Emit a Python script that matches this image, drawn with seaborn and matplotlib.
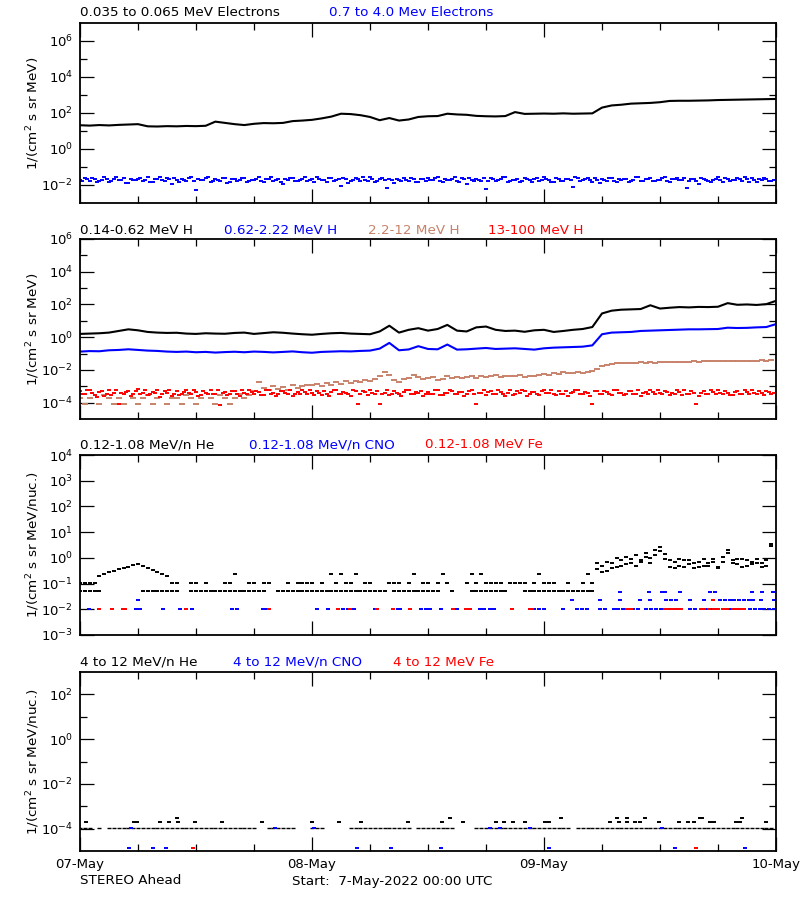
import numpy as np
import pandas as pd
import matplotlib
matplotlib.use('Agg')
import matplotlib.pyplot as plt
import matplotlib.dates as mdates
from matplotlib.ticker import NullFormatter
import seaborn as sns

nan = np.nan
START = pd.Timestamp("2022-05-07 00:00")

# ---- panel 1: electrons (log10 flux) ----
# 0.035-0.065 MeV, hourly samples
e_low = [1.32, 1.30, 1.33, 1.31, 1.34, 1.36, 1.38, 1.26, 1.25, 1.27,
         1.26, 1.28, 1.27, 1.29, 1.52, 1.45, 1.38, 1.33, 1.40, 1.44,
         1.43, 1.45, 1.55, 1.58, 1.62, 1.70, 1.80, 1.96, 1.94, 1.88,
         1.78, 1.60, 1.72, 1.58, 1.64, 1.78, 1.82, 1.83, 1.96, 1.92,
         1.90, 1.84, 1.82, 1.81, 1.83, 2.05, 1.95, 1.96, 1.97, 1.96,
         1.98, 1.96, 1.97, 1.98, 2.30, 2.42, 2.46, 2.52, 2.54, 2.56,
         2.60, 2.67, 2.68, 2.68, 2.69, 2.70, 2.72, 2.73, 2.74, 2.75,
         2.76, 2.77, 2.78]
# 0.7-4.0 MeV, 30 min samples on the hour / half hour ...
e_high = [-1.70, -1.62, -1.80, -1.66, -1.75, -1.58, -1.84, -1.69, -1.73, -1.60, -1.90, -1.71,
          -1.64, -1.78, -1.55, -1.82, -1.68, -1.74, -1.61, -1.95, -1.70, -1.66, -1.79, -1.57,
          -2.25, -1.72, -1.63, -1.81, -1.69, -1.76, -1.59, -1.86, -1.67, -1.73, -1.62, -1.78,
          -1.70, -1.56, -1.83, -1.68, -1.75, -1.64, -1.92, -1.71, -1.60, -1.77, -1.66, -1.80,
          -1.69, -1.58, -1.74, -1.85, -1.63, -1.72, -2.05, -1.67, -1.79, -1.61, -1.76, -1.70,
          -1.55, -1.82, -1.68, -1.73, -1.64, -1.88, -1.71, -1.59, -1.77, -1.66, -1.81, -1.69,
          -1.62, -1.74, -1.57, -1.83, -1.70, -1.65, -1.78, -1.60, -1.93, -1.72, -1.67, -1.76,
          -2.20, -1.63, -1.80, -1.69, -1.58, -1.75, -1.71, -1.84, -1.61, -1.73, -1.66, -1.79,
          -1.56, -1.70, -1.82, -1.64, -1.77, -1.68, -2.10, -1.62, -1.74, -1.59, -1.81, -1.70,
          -1.65, -1.78, -1.60, -1.86, -1.72, -1.67, -1.75, -1.55, -1.80, -1.69, -1.63, -1.77,
          -1.71, -1.58, -1.84, -1.66, -1.73, -1.61, -1.79, -1.68, -1.95, -1.64, -1.76, -1.70,
          -1.57, -1.82, -1.67, -1.74, -1.62, -1.78, -1.69, -1.60, -1.85, -1.72, -1.65, -1.75]
# ... and the samples a quarter hour later
e_high_b = [-1.76, -1.68, -1.59, -1.83, -1.71, -1.64, -1.79, -1.56, -1.72, -1.87, -1.65, -1.74,
            -1.61, -1.70, -1.81, -1.67, -1.58, -1.76, -1.69, -1.63, -1.84, -1.72, -1.60, -1.78,
            -1.66, -1.73, -1.55, -1.80, -1.70, -1.62, -1.91, -1.68, -1.75, -1.59, -1.82, -1.71,
            -1.64, -1.77, -1.69, -1.58, -1.73, -1.86, -1.66, -1.61, -1.79, -1.70, -1.57, -1.74,
            -1.82, -1.65, -1.71, -1.60, -1.77, -1.68, -1.63, -1.89, -1.72, -1.66, -1.58, -1.80,
            -1.69, -1.75, -1.62, -2.15, -1.70, -1.64, -1.78, -1.73, -1.59, -1.84, -1.67, -1.76,
            -1.71, -1.60, -1.80, -1.68, -1.74, -1.56, -1.83, -1.69, -1.63, -1.77, -1.72, -1.61,
            -1.79, -1.66, -1.73, -1.58, -1.85, -1.70, -1.64, -1.76, -1.68, -1.81, -1.60, -1.74,
            -1.69, -1.83, -1.62, -1.75, -1.66, -1.71, -1.57, -1.79, -1.68, -1.74, -1.63, -1.87,
            -1.72, -1.60, -1.77, -1.69, -1.64, -1.82, -1.70, -1.58, -1.75, -1.66, -1.80, -1.71,
            -1.62, -1.76, -1.68, -1.59, -1.73, -2.18, -1.67, -1.78, -1.61, -1.72, -1.84, -1.65,
            -1.74, -1.60, -1.79, -1.70, -1.66, -1.57, -1.81, -1.73, -1.68, -1.63, -1.77, -1.70]

# ---- panel 2: protons ----
h_low = [0.20, 0.22, 0.24, 0.28, 0.38, 0.48, 0.42, 0.32, 0.28, 0.26,
         0.27, 0.22, 0.20, 0.24, 0.22, 0.21, 0.26, 0.28, 0.20, 0.25,
         0.30, 0.27, 0.22, 0.18, 0.15, 0.20, 0.24, 0.26, 0.22, 0.20,
         0.18, 0.35, 0.70, 0.28, 0.45, 0.55, 0.40, 0.50, 0.75, 0.40,
         0.35, 0.60, 0.65, 0.45, 0.38, 0.40, 0.33, 0.42, 0.45, 0.32,
         0.38, 0.45, 0.50, 0.62, 1.45, 1.62, 1.68, 1.70, 1.72, 1.95,
         1.75, 1.80, 1.84, 1.82, 1.85, 1.84, 1.86, 2.08, 1.98, 2.00,
         1.97, 2.02, 2.22]
h_mid = [-0.88, -0.85, -0.86, -0.80, -0.78, -0.74, -0.78, -0.82, -0.84, -0.88,
         -0.90, -0.88, -0.92, -0.90, -0.94, -0.91, -0.89, -0.92, -0.88, -0.90,
         -0.93, -0.90, -0.87, -0.92, -0.95, -0.90, -0.88, -0.86, -0.87, -0.84,
         -0.82, -0.70, -0.35, -0.80, -0.75, -0.55, -0.72, -0.74, -0.45, -0.76,
         -0.74, -0.70, -0.66, -0.72, -0.70, -0.68, -0.72, -0.76, -0.68, -0.64,
         -0.62, -0.60, -0.58, -0.50, 0.18, 0.28, 0.30, 0.32, 0.38, 0.40,
         0.42, 0.44, 0.46, 0.48, 0.48, 0.49, 0.50, 0.58, 0.56, 0.57,
         0.60, 0.62, 0.80]
h_high = [-3.70, -4.06, -3.70, nan, -4.06, -3.55, -3.70, -4.06, -3.70, -4.06, nan, -3.70,
          -4.06, -3.70, -3.55, -4.06, -3.70, nan, -4.06, -3.70, -3.70, -4.06, -3.55, -3.70,
          -4.06, -3.70, nan, -3.70, -4.06, -3.55, -3.70, -4.06, -3.70, -3.45, -3.70, -3.55,
          -3.30, -2.75, -3.10, -3.20, -3.00, -3.15, -3.05, -3.20, -2.95, -3.10, -3.00, -2.90,
          -2.95, -2.85, -3.00, -2.80, -2.90, -2.75, -2.85, -2.70, -2.80, -2.65, -2.75, -2.60,
          -2.70, -2.55, -2.35, -2.10, -2.30, -2.60, -2.75, -2.55, -2.50, -2.30, -2.45, -2.55,
          -2.50, -2.45, -2.60, -2.55, -2.40, -2.50, -2.45, -2.50, -2.45, -2.40, -2.50, -2.35,
          -2.45, -2.40, -2.30, -2.45, -2.40, -2.35, -2.40, -2.30, -2.45, -2.35, -2.40, -2.30,
          -2.25, -2.30, -2.20, -2.25, -2.15, -2.20, -2.20, -2.15, -2.20, -2.10, -2.05, -1.95,
          -1.75, -1.68, -1.62, -1.60, -1.58, -1.60, -1.55, -1.57, -1.53, -1.55, -1.52, -1.55,
          -1.50, -1.53, -1.52, -1.50, -1.50, -1.49, -1.50, -1.48, -1.50, -1.47, -1.48, -1.46,
          -1.47, -1.45, -1.46, -1.44, -1.45, -1.44, -1.45, -1.43, -1.44, -1.42, -1.43, -1.42]
h_top = [-3.30, -3.45, -3.20, -3.55, -3.35, -3.60, -3.25, -3.40, -4.10, -3.50, -3.30, -3.45,
         -3.15, -3.40, -3.55, -3.35, -3.25, -3.50, -3.40, -3.60, -3.30, -3.45, -3.20, -3.50,
         -3.35, -3.55, -3.40, -3.25, -3.45, -4.15, -3.35, -3.50, -3.30, -3.60, -3.40, -3.25,
         -3.45, -3.35, -3.55, -3.20, -3.40, -3.50, -3.30, -3.45, -3.60, -3.35, -3.25, -3.50,
         -3.40, -3.30, -3.55, -3.45, -3.35, -3.20, -3.50, -3.40, -3.60, -3.30, -3.45, -3.35,
         -3.25, -3.50, -4.10, -3.40, -3.55, -3.30, -3.45, -3.35, -3.20, -3.50, -3.40, -3.60,
         -3.35, -3.45, -3.25, -3.55, -3.40, -3.30, -3.50, -3.35, -3.45, -3.20, -4.10, -3.40,
         -3.55, -3.30, -3.45, -3.35, -3.60, -3.25, -3.50, -3.40, -3.30, -3.45, -3.35, -3.55,
         -3.20, -3.40, -3.50, -3.30, -3.45, -3.60, -3.35, -3.25, -3.50, -3.40, -4.10, -3.30,
         -3.45, -3.35, -3.55, -3.20, -3.40, -3.50, -3.30, -3.45, -3.60, -3.35, -3.25, -3.50,
         -3.40, -3.30, -3.55, -3.45, -3.35, -3.20, -3.50, -3.40, -3.60, -3.30, -3.45, -3.35,
         -3.25, -3.50, -3.40, -3.55, -3.30, -3.45, -3.35, -3.20, -3.50, -3.40, -3.30, -3.45]
h_top_b = [-3.50, -3.25, -3.40, -3.65, -3.30, -3.45, -3.55, -3.20, -3.40, -3.35, -3.60, -3.30,
           -3.45, -3.25, -3.50, -3.40, -3.65, -3.30, -3.20, -3.45, -3.55, -3.35, -3.40, -3.25,
           -3.60, -3.30, -3.45, -3.50, -3.20, -3.40, -3.55, -3.30, -3.45, -3.25, -3.50, -3.35,
           -3.30, -3.55, -3.25, -3.45, -3.60, -3.30, -3.40, -3.20, -3.50, -3.45, -3.35, -3.25,
           -3.55, -3.40, -3.30, -3.60, -3.25, -3.45, -3.35, -3.50, -3.20, -4.10, -3.30, -3.55,
           -3.40, -3.30, -3.45, -3.25, -3.50, -3.40, -3.60, -3.20, -3.45, -3.35, -3.30, -3.50,
           -3.45, -3.25, -3.55, -3.40, -3.20, -3.50, -3.35, -3.60, -3.30, -3.45, -3.40, -3.25,
           -3.35, -3.50, -3.20, -3.45, -3.40, -3.55, -3.30, -3.25, -3.60, -3.35, -3.45, -3.30,
           -3.40, -3.25, -3.55, -3.45, -3.30, -3.40, -3.20, -3.50, -3.35, -3.60, -3.30, -3.45,
           -3.30, -3.50, -3.25, -3.40, -3.55, -3.30, -3.45, -3.20, -3.40, -3.50, -3.35, -3.25,
           -3.50, -3.35, -3.40, -3.25, -3.55, -3.45, -3.30, -4.10, -3.40, -3.50, -3.25, -3.45,
           -3.40, -3.30, -3.55, -3.35, -3.45, -3.25, -3.50, -3.40, -3.30, -3.55, -3.35, -3.40]

# ---- panel 3: 0.12-1.08 MeV/n heavy ions ----
he_a = [-1.28, -1.28, -1.28, -1.28, -1.28, nan, nan, nan, nan, nan,
        nan, nan, nan, -1.28, -1.28, -1.28, -1.28, -1.28, -1.28, -1.28,
        -1.28, nan, nan, -1.28, -1.28, -1.28, -1.28, -1.28, -1.28, -1.28,
        -1.28, -1.28, -1.28, -1.28, -1.28, -1.28, -1.28, -1.28, -1.28, nan,
        nan, -1.28, -1.28, -1.28, -1.28, -1.28, -1.28, -1.28, -1.28, -1.28,
        -1.28, -1.28, -1.28, -1.28, -1.28, -1.28, -1.28, -1.28, -1.28, -1.28,
        -1.28, -1.28, -1.28, -1.28, nan, -1.28, -1.28, -1.28, -1.28, -1.28,
        -1.28, -1.28, -1.28, -1.28, -1.28, nan, nan, -1.28, nan, nan,
        nan, -1.28, -1.28, -1.28, -1.28, -1.28, -1.28, -1.28, -1.28, nan,
        nan, nan, -1.28, -1.28, -1.28, -1.28, -1.28, -1.28, -1.28, -1.28,
        -1.28, -1.28, -1.28, -1.28, -1.28, -1.28, -1.28, -0.45, -0.30, -0.50,
        -0.20, -0.35, -0.10, -0.25, -0.05, -0.30, -0.15, 0.05, -0.20, 0.10,
        0.25, -0.05, -0.35, -0.15, -0.30, -0.10, -0.25, -0.40, -0.15, -0.30,
        -0.20, -0.05, -0.35, -0.15, 0.20, -0.10, -0.25, -0.05, -0.30, -0.15,
        -0.20, -0.35, -0.10, 0.45]
he_b = [-0.97, -0.97, -0.97, -0.97, -0.70, -0.62, -0.55, -0.50, -0.45, -0.40,
        -0.35, -0.28, -0.25, -0.32, -0.40, -0.48, -0.55, -0.62, -0.70, -0.97,
        -0.97, nan, nan, -0.97, -0.97, nan, -0.97, nan, nan, nan,
        -0.97, -0.97, -0.64, nan, nan, -0.97, -0.97, nan, -0.97, -0.97,
        nan, nan, nan, -0.97, nan, -0.97, -0.97, -0.97, -0.97, nan,
        -0.97, nan, -0.64, -0.97, -0.64, -0.97, -0.97, -0.64, nan, -0.97,
        -0.97, nan, nan, nan, -0.97, -0.97, -0.97, nan, -0.97, -0.64,
        nan, -0.97, -0.97, nan, -0.97, -0.64, -0.97, nan, nan, nan,
        -0.97, -0.64, -0.97, -0.64, -0.97, -0.97, -0.97, -0.97, nan, -0.97,
        -0.97, -0.97, -0.97, nan, -0.97, -0.64, -0.97, -0.97, -0.97, nan,
        nan, -0.97, nan, nan, -0.97, -0.64, -0.97, -0.20, -0.55, -0.15,
        -0.40, 0.00, -0.30, 0.05, -0.20, 0.10, -0.10, 0.20, 0.00, 0.30,
        0.43, 0.15, -0.10, -0.40, -0.05, -0.35, -0.10, -0.20, -0.35, -0.05,
        -0.30, -0.15, -0.40, 0.05, 0.30, -0.20, -0.05, -0.35, -0.10, -0.25,
        -0.05, -0.20, -0.30, 0.55]
cno_low_hours = [0.9, 5.8, 6.2, 8.6, 10.3, 11.6, 15.7, 16.2, 18.9, 19.3, 24.5, 25.7,
                 27.2, 27.7, 28.3, 30.5, 32.9, 33.1, 35.3, 35.8, 36.2, 37.3, 39.0, 40.3,
                 41.4, 41.8, 42.4, 42.8, 46.5, 47.0, 47.5, 48.0, 50.0, 51.4, 51.9, 52.4,
                 53.8, 54.3, 55.2, 55.7, 56.2, 57.2, 57.7, 58.6, 59.1, 59.6, 60.1, 61.0,
                 61.5, 62.0, 63.1, 63.6, 64.8, 65.3, 65.8, 67.2, 67.7, 68.2, 69.3, 69.8,
                 70.3, 70.8, 71.3, 71.8]
cno_mid_hours = [6.0, 50.9, 53.8, 55.9, 57.9, 59.0, 60.6, 61.1, 61.7, 63.1, 64.6, 66.2,
                 66.7, 67.2, 67.7, 68.2, 68.7, 69.2, 69.6, 70.4, 71.8]
cno_high_hours = [55.9, 58.9, 60.2, 60.5, 62.1, 65.2, 65.7, 69.5, 70.6, 71.7]
fe_low_hours = [1.95, 3.35, 4.4, 4.7, 11.0, 19.5, 26.7, 27.9, 30.7, 32.4, 34.1, 38.6,
                39.9, 40.3, 44.7, 46.5, 46.8, 56.6, 57.0, 60.5, 60.9, 61.3, 61.8, 62.2,
                64.2, 64.6, 65.1, 65.6, 66.0, 66.5, 66.9, 67.5, 67.9, 68.3, 68.7]
fe_mid_hours = [65.5]
ion_levels = [-1.97, -1.64, -1.32]   # one-count levels, log10

# ---- panel 4: 4-12 MeV/n heavy ions ----
he4_base = [-3.95, -3.95, -3.95, nan, -3.95, nan, -3.95, -3.95, -3.95, -3.95, -3.95, -3.95,
            -3.95, -3.95, -3.95, -3.95, -3.95, -3.95, -3.95, -3.95, -3.95, -3.95, -3.95, -3.95,
            -3.95, -3.95, -3.95, -3.95, -3.95, -3.95, -3.95, -3.95, -3.95, -3.95, -3.95, -3.95,
            -3.95, nan, nan, -3.95, -3.95, -3.95, -3.95, -3.95, -3.95, nan, nan, nan,
            -3.95, -3.95, -3.95, nan, nan, nan, nan, nan, -3.95, -3.95, -3.95, -3.95,
            -3.95, -3.95, -3.95, -3.95, -3.95, -3.95, -3.95, -3.95, -3.95, nan, -3.95, -3.95,
            -3.95, -3.95, -3.95, -3.95, -3.95, -3.95, nan, nan, nan, nan, -3.95, -3.95,
            -3.95, -3.95, -3.95, -3.95, -3.95, -3.95, -3.95, -3.95, -3.95, -3.95, -3.95, -3.95,
            -3.95, -3.95, -3.95, -3.95, -3.95, -3.95, nan, -3.95, -3.95, -3.95, -3.95, -3.95,
            -3.95, -3.95, -3.95, -3.95, -3.95, -3.95, -3.95, -3.95, -3.95, -3.95, -3.95, -3.95,
            -3.95, -3.95, -3.95, -3.95, -3.95, -3.95, -3.95, -3.95, -3.95, -3.95, -3.95, -3.95,
            -3.95, -3.95, -3.95, -3.95, -3.95, -3.95, -3.95, -3.95, -3.95, -3.95, -3.95, -3.95]
he4_two_hours = [0.6, 5.6, 5.9, 8.3, 9.2, 10.1, 11.9, 14.7, 18.8, 24.0, 26.8, 29.1,
                 33.9, 37.4, 39.6, 43.0, 43.9, 44.8, 46.0, 48.1, 48.5, 54.8, 55.8, 56.6,
                 57.4, 57.9, 59.9, 62.0, 62.9, 63.5, 65.2, 65.6, 67.9, 68.3, 71.0]
he4_three_hours = [10.0, 38.3, 49.8, 55.5, 56.6, 58.4, 64.1, 64.3, 68.5]
cno4_low_hours = [5.1, 7.5, 8.9, 28.7, 32.2, 37.3, 48.5, 61.6, 68.8]
cno4_base_hours = [5.3, 20.2, 24.2, 42.4, 43.4, 46.6, 60.2]
fe4_low_hours = [11.7, 63.7]
p4_levels = [-4.88, -3.95, -3.71, -3.51]

BROWN = "#c8826a"
BLUE = "#0000ff"
RED = "#ff0000"


def times(hours):
    return START + pd.to_timedelta(np.asarray(hours, dtype=float), unit="h")


def series_times(vals, step, offset=0.0):
    return times(np.arange(len(vals)) * step + offset)


def line(ax, vals, step, color):
    sns.lineplot(x=series_times(vals, step), y=10.0 ** np.asarray(vals, dtype=float),
                 ax=ax, color=color, linewidth=1.5, legend=False)


def dots(ax, t, logv, color, size=10, lw=1.4):
    sns.scatterplot(x=t, y=10.0 ** np.asarray(logv, dtype=float), ax=ax, color=color,
                    marker="_", s=size, linewidth=lw, legend=False)


def level_dots(ax, hours, level, color):
    dots(ax, times(hours), [level] * len(hours), color, size=8)


def style_axis(ax, lo, hi, major, minor):
    ax.set_yscale("log")
    ax.set_ylim(10.0 ** lo, 10.0 ** hi)
    ax.set_yticks([10.0 ** e for e in major])
    ax.set_yticklabels([f"$10^{{{e}}}$" for e in major])
    ax.set_yticks([10.0 ** e for e in minor], minor=True)
    ax.yaxis.set_minor_formatter(NullFormatter())
    ax.set_xlim(START, START + pd.Timedelta(days=3))
    ax.xaxis.set_major_locator(mdates.DayLocator())
    ax.xaxis.set_minor_locator(mdates.HourLocator(byhour=[6, 12, 18]))
    ax.xaxis.set_major_formatter(mdates.DateFormatter("%d-%b"))
    ax.tick_params(which="both", direction="in", top=True, right=True, width=0.9,
                   labelsize=9.5, pad=5, colors="black")
    ax.tick_params(which="major", length=10)
    ax.tick_params(which="minor", length=5)
    ax.set_xlabel("")
    ax.set_ylabel("")
    for sp in ax.spines.values():
        sp.set_linewidth(1.3)
        sp.set_color("black")


sns.set_theme(style="ticks")
plt.rcParams["font.family"] = ["DejaVu Sans"]
plt.rcParams["mathtext.fontset"] = "dejavusans"
plt.rcParams["text.color"] = "black"

fig = plt.figure(figsize=(8, 9), dpi=100)
W, H = 800.0, 900.0
boxes = [(23, 203), (239, 419), (455, 635), (672, 851)]
axes = [fig.add_axes([80 / W, 1 - b / H, 696 / W, (b - t) / H]) for t, b in boxes]

# panel 1
ax = axes[0]
line(ax, e_low, 1.0, "black")
dots(ax, series_times(e_high, 0.5), e_high, BLUE)
dots(ax, series_times(e_high_b, 0.5, 0.25), e_high_b, BLUE)
style_axis(ax, -3, 7, [-2, 0, 2, 4, 6], [-1, 1, 3, 5])

# panel 2
ax = axes[1]
dots(ax, series_times(h_high, 0.5), h_high, BROWN, size=14)
dots(ax, series_times(h_top, 0.5), h_top, RED)
dots(ax, series_times(h_top_b, 0.5, 0.25), h_top_b, RED)
line(ax, h_mid, 1.0, BLUE)
line(ax, h_low, 1.0, "black")
style_axis(ax, -5, 6, [-4, -2, 0, 2, 4, 6], [-3, -1, 1, 3, 5])

# panel 3
ax = axes[2]
dots(ax, series_times(he_a, 0.5), he_a, "black", size=7)
dots(ax, series_times(he_b, 0.5), he_b, "black", size=7)
level_dots(ax, cno_low_hours, ion_levels[0], BLUE)
level_dots(ax, cno_mid_hours, ion_levels[1], BLUE)
level_dots(ax, cno_high_hours, ion_levels[2], BLUE)
level_dots(ax, fe_low_hours, ion_levels[0], RED)
level_dots(ax, fe_mid_hours, ion_levels[1], RED)
style_axis(ax, -3, 4, [-3, -2, -1, 0, 1, 2, 3, 4], [])

# panel 4
ax = axes[3]
dots(ax, series_times(he4_base, 0.5), he4_base, "black", size=12, lw=1.0)
level_dots(ax, he4_two_hours, p4_levels[2], "black")
level_dots(ax, he4_three_hours, p4_levels[3], "black")
level_dots(ax, cno4_low_hours, p4_levels[0], BLUE)
level_dots(ax, cno4_base_hours, p4_levels[1], BLUE)
level_dots(ax, fe4_low_hours, p4_levels[0], RED)
style_axis(ax, -5, 3, [-4, -2, 0, 2], [-3, -1, 1])

for ax in axes[:3]:
    ax.tick_params(axis="x", labelbottom=False)

# panel titles
titles = [
    (13, [(80, "0.035 to 0.065 MeV Electrons", "black"), (329, "0.7 to 4.0 Mev Electrons", BLUE)]),
    (230, [(80, "0.14-0.62 MeV H", "black"), (224, "0.62-2.22 MeV H", BLUE),
           (368, "2.2-12 MeV H", BROWN), (488, "13-100 MeV H", RED)]),
    (445, [(80, "0.12-1.08 MeV/n He", "black"), (249, "0.12-1.08 MeV/n CNO", BLUE),
           (425, "0.12-1.08 MeV Fe", RED)]),
    (662, [(80, "4 to 12 MeV/n He", "black"), (233, "4 to 12 MeV/n CNO", BLUE),
           (393, "4 to 12 MeV Fe", RED)]),
]
for y, items in titles:
    for x, txt, c in items:
        fig.text(x / W, 1 - y / H, txt, color=c, fontsize=9.7, ha="left", va="center")

ylabels = ["1/(cm$^2$ s sr MeV)", "1/(cm$^2$ s sr MeV)",
           "1/(cm$^2$ s sr MeV/nuc.)", "1/(cm$^2$ s sr MeV/nuc.)"]
for (t, b), lab in zip(boxes, ylabels):
    fig.text(33 / W, 1 - (t + b) / 2 / H, lab, rotation=90, fontsize=9.7,
             ha="center", va="center")

fig.text(80 / W, 1 - 881 / H, "STEREO Ahead", fontsize=9.7, ha="left", va="center")
fig.text(292 / W, 1 - 881 / H, "Start:  7-May-2022 00:00 UTC", fontsize=9.7,
         ha="left", va="center")

fig.savefig("out.png", dpi=100, facecolor="white")
